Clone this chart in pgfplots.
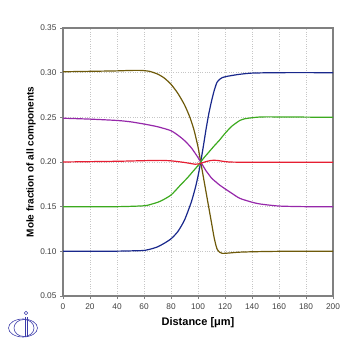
\documentclass[border=0pt]{standalone}
\usepackage{pgfplots}
\pgfplotsset{compat=1.18}
\usepackage{fontspec}
\setmainfont{Liberation Sans}
\definecolor{cblue}{RGB}{25,40,140}
\definecolor{colive}{RGB}{110,90,10}
\definecolor{cpurple}{RGB}{150,40,170}
\definecolor{cred}{RGB}{230,30,50}
\definecolor{cgreen}{RGB}{60,170,30}
\definecolor{logoblue}{RGB}{60,60,170}
\begin{document}
\begin{tikzpicture}[x=1pt,y=1pt]
\path[use as bounding box] (0,0) rectangle (350,348);
\begin{axis}[
  at={(63pt,52pt)}, anchor=south west,
  scale only axis, width=270pt, height=268pt,
  xmin=0, xmax=200, ymin=0.05, ymax=0.35,
  xtick={0,20,...,200},
  ytick={0.05,0.10,...,0.36},
  yticklabel style={/pgf/number format/.cd, fixed, fixed zerofill, precision=2},
  /pgf/number format/assume math mode=true,
  tick label style={font=\fontsize{8.3}{9}\selectfont, text=black!75},
  xticklabel style={yshift=-1pt},
  xtick pos=bottom, ytick pos=left,
  tick align=outside, major tick length=3pt,
  tick style={gray, line width=0.8pt},
  axis line style={gray, line width=1.2pt},
  grid=major,
  major grid style={dotted, gray!45, line width=0.6pt},
  xlabel={Distance [μm]},
  ylabel={Mole fraction of all components},
  every axis x label/.style={at={(axis description cs:0.5,-0.1)}, anchor=center, font=\bfseries\fontsize{11}{12}\selectfont},
  every axis y label/.style={at={(axis description cs:-0.1185,0.5)}, rotate=90, anchor=center, font=\bfseries\fontsize{10}{12}\selectfont},
  every axis plot/.append style={line width=1.2pt, line join=round, smooth, tension=0.4},
]
\addplot[cblue] coordinates {
(0,0.100) (20,0.100) (40,0.1002) (50,0.1005) (60,0.101) (66,0.103) (70,0.105) (75,0.109) (80,0.114) (85,0.122) (90,0.135) (95,0.155) (98,0.171) (100,0.184) (102,0.200) (104,0.218) (106,0.237) (108,0.254) (110,0.268) (112,0.280) (114,0.289) (116,0.2925) (118,0.2945) (122,0.296) (130,0.298) (140,0.2995) (160,0.300) (200,0.300)};
\addplot[colive] coordinates {
(0,0.301) (20,0.3015) (40,0.302) (50,0.3025) (58,0.3025) (64,0.3015) (70,0.2985) (75,0.294) (80,0.287) (85,0.277) (90,0.264) (94,0.250) (97,0.236) (100,0.217) (102,0.200) (104,0.183) (106,0.166) (108,0.149) (110,0.132) (112,0.115) (114,0.103) (116,0.099) (118,0.0977) (122,0.098) (130,0.099) (140,0.0995) (160,0.100) (200,0.100)};
\addplot[cpurple] coordinates {
(0,0.249) (20,0.248) (40,0.2465) (50,0.245) (60,0.2425) (70,0.2395) (80,0.235) (86,0.229) (90,0.224) (95,0.216) (100,0.205) (102,0.200) (104,0.195) (106,0.190) (108,0.186) (110,0.182) (113,0.178) (116,0.1742) (120,0.170) (125,0.165) (131,0.1593) (140,0.155) (146,0.153) (160,0.1507) (180,0.150) (200,0.150)};
\addplot[cgreen] coordinates {
(0,0.150) (40,0.150) (60,0.151) (66,0.153) (72,0.156) (80,0.163) (87,0.1742) (92,0.182) (96,0.189) (100,0.196) (102,0.200) (104,0.204) (108,0.211) (112,0.218) (116,0.2246) (120,0.232) (125,0.240) (131,0.2465) (135,0.2485) (140,0.2495) (150,0.2505) (200,0.250)};
\addplot[cred] coordinates {
(0,0.200) (40,0.2008) (60,0.2015) (72,0.2018) (80,0.2013) (90,0.1995) (98,0.1975) (102,0.1985) (106,0.2005) (110,0.2018) (114,0.2018) (120,0.2005) (130,0.1998) (200,0.1998)};
\end{axis}
% logo
\begin{scope}[logoblue, line width=0.6pt]
\draw (23,20) ellipse [x radius=14.5, y radius=9];
\draw (24,20) ellipse [x radius=10, y radius=8.5];
\draw (25.2,11) -- (25.2,31.5);
\draw (26.8,11) -- (26.8,31.5);
\draw (26,35) circle [radius=1.8];
\end{scope}
\end{tikzpicture}
\end{document}
